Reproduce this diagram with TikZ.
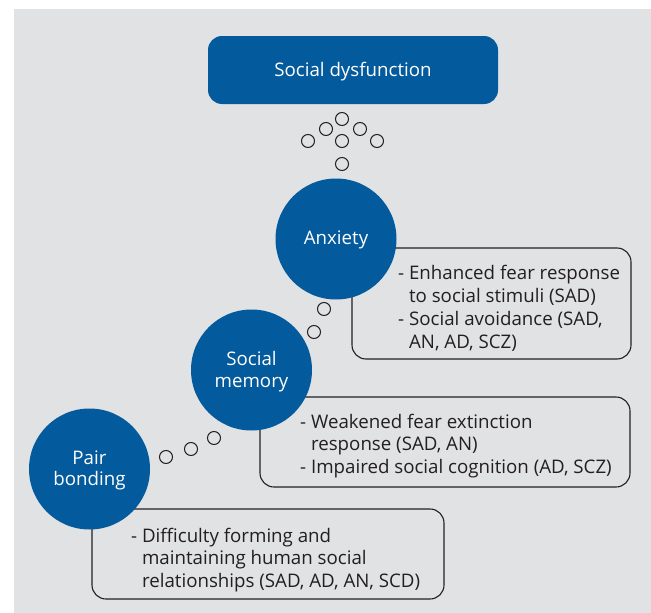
\documentclass[tikz,border=0pt]{standalone}
\usepackage{fontspec}
\setmainfont{Open Sans}
\usepackage{xcolor}
\usetikzlibrary{positioning}
\definecolor{bggray}{RGB}{225,226,228}
\definecolor{sdblue}{RGB}{3,90,156}
\definecolor{inkdark}{RGB}{35,31,32}
\tikzset{
    topic/.style={circle, fill=sdblue, text=white, minimum size=121pt, inner sep=0pt,
        align=center, font=\fontsize{18.7}{21.5}\selectfont},
    headbox/.style={rectangle, rounded corners=14pt, fill=sdblue, text=white,
        minimum width=290pt, minimum height=68pt, font=\fontsize{18.7}{21}\selectfont},
    descbox/.style={rectangle, rounded corners=14pt, draw=inkdark, line width=1.1pt},
    desctext/.style={anchor=west, align=left, text=inkdark, inner sep=0pt,
        font=\fontsize{18.7}{22.8}\selectfont},
    bubble/.style={circle, draw=inkdark, line width=1pt, minimum size=13pt, inner sep=0pt}
}
\newcommand{\hang}{\phantom{- }}

\begin{document}
\begin{tikzpicture}[x=1pt, y=-1pt]
    \useasboundingbox (0, 0) rectangle (651, 613);
    \fill[bggray] (14, 9) rectangle (651, 613);

    % top box
    \node[headbox] (dysf) at (353, 70) {};
    \node[text=white, font=\fontsize{18.7}{21}\selectfont] (dysftext) at (353, 71.5) {Social dysfunction};

    % description boxes, behind the circles
    \node[descbox, minimum width=279pt, minimum height=111pt] (anxbox) at (491.5, 303.5) {};
    \node[descbox, minimum width=370pt, minimum height=90pt] (memobox) at (445, 442) {};
    \node[descbox, minimum width=352pt, minimum height=90pt] (pairbox) at (268, 554) {};

    \node[desctext] (anxtext) at (398, 308.5) {- Enhanced fear response\\\hang to social stimuli (SAD)\\- Social avoidance (SAD,\\\hang AN, AD, SCZ)};
    \node[desctext] (memotext) at (300, 446) {- Weakened fear extinction\\\hang response (SAD, AN)\\- Impaired social cognition (AD, SCZ)};
    \node[desctext] (pairtext) at (131, 560) {- Difficulty forming and\\\hang maintaining human social\\\hang relationships (SAD, AD, AN, SCD)};

    % circles
    \node[topic] (anx) at (336, 239) {};
    \node[topic] (memo) at (251.5, 370) {};
    \node[topic] (pair) at (89.5, 469) {};
    \node[topic, minimum size=0pt] (anxlabel) at (336, 240) {Anxiety};
    \node[topic, minimum size=0pt] (memolabel) at (251.5, 371.5) {Social\\memory};
    \node[topic, minimum size=0pt] (pairlabel) at (89.5, 470.5) {Pair\\bonding};

    % thought bubbles
    \foreach \bx/\by [count=\k] in {342/119, 326/129, 360/129, 308/141, 342/141, 377/141, 342/164,
                                    324/309, 314/332,
                                    166/457, 191/449, 214/438} {
        \node[bubble] (bub\k) at (\bx, \by) {};
    }
\end{tikzpicture}
\end{document}
